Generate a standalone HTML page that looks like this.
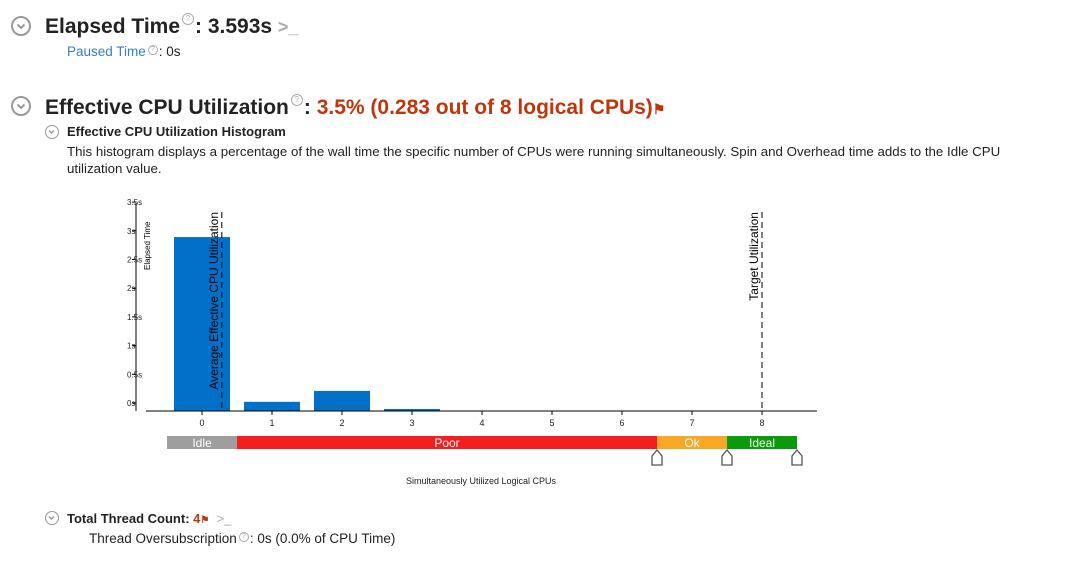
<!DOCTYPE html>
<html><head><meta charset="utf-8"><style>
body{margin:0;width:1077px;height:561px;background:#fff;font-family:"Liberation Sans",sans-serif;color:#222;position:relative;overflow:hidden}
.a{position:absolute;white-space:nowrap}
.h1{font-size:21px;font-weight:bold}
.red{color:#c0360c}
.q{display:inline-block;width:8px;height:8px;border:1px solid #aaa;border-radius:50%;font-size:7px;line-height:8px;text-align:center;color:#aaa;font-weight:normal;vertical-align:super;margin:0 1px 0 2px}
.h1 .q{width:10px;height:10px;line-height:10px;font-size:8px;vertical-align:12px}
.circ{position:absolute;border:2px solid #999;border-radius:50%;box-sizing:border-box}
</style></head><body>
<div class="circ" style="left:11px;top:16px;width:20px;height:20px"><svg width="16" height="16" style="position:absolute;left:0;top:0"><path d="M4.5 6.5 L8 10 L11.5 6.5" stroke="#999" stroke-width="2" fill="none"/></svg></div>
<div class="a h1" style="left:45px;top:13px">Elapsed Time<span class="q">?</span>: 3.593s <span style="color:#aaa;font-size:18px">&gt;_</span></div>
<div class="a" style="left:67px;top:44px;font-size:13.5px"><span style="color:#3a7cc4">Paused Time</span><span class="q">?</span>: 0s</div>

<div class="circ" style="left:11px;top:96px;width:20px;height:20px"><svg width="16" height="16" style="position:absolute;left:0;top:0"><path d="M4.5 6.5 L8 10 L11.5 6.5" stroke="#999" stroke-width="2" fill="none"/></svg></div>
<div class="a h1" style="left:45px;top:94px">Effective CPU Utilization<span class="q">?</span>: <span class="red">3.5% (0.283 out of 8 logical CPUs)</span><span class="red" style="font-size:14px">&#9873;</span></div>
<div class="circ" style="left:45px;top:125px;width:14px;height:14px;border-width:1.5px"><svg width="11" height="11" style="position:absolute;left:0;top:0"><path d="M3 4.5 L5.5 7 L8 4.5" stroke="#999" stroke-width="1.5" fill="none"/></svg></div>
<div class="a" style="left:67px;top:124px;font-size:13px;font-weight:bold">Effective CPU Utilization Histogram</div>
<div class="a" style="left:67px;top:143px;font-size:13.3px;line-height:17px;white-space:normal;width:990px">This histogram displays a percentage of the wall time the specific number of CPUs were running simultaneously. Spin and Overhead time adds to the Idle CPU utilization value.</div>

<svg id="chart" class="a" style="left:0;top:0" width="1077" height="561"></svg>

<div class="circ" style="left:45px;top:511px;width:14px;height:14px;border-width:1.5px"><svg width="11" height="11" style="position:absolute;left:0;top:0"><path d="M3 4.5 L5.5 7 L8 4.5" stroke="#999" stroke-width="1.5" fill="none"/></svg></div>
<div class="a" style="left:67px;top:511px;font-size:13px;font-weight:bold">Total Thread Count: <span class="red">4</span><span class="red" style="font-size:10px">&#9873;</span> <span style="color:#aaa;font-weight:normal">&nbsp;&gt;_</span></div>
<div class="a" style="left:89px;top:531px;font-size:13.5px">Thread Oversubscription<span class="q">?</span>: 0s (0.0% of CPU Time)</div>

<script>
const categories=[0,1,2,3,4,5,6,7,8];
const values=[3.03,0.16,0.35,0.035,0,0,0,0,0];
const yTicks=[0,0.5,1,1.5,2,2.5,3,3.5];
const yTickLabels=["0s","0.5s","1s","1.5s","2s","2.5s","3s","3.5s"];
const avgUtil=0.283;
const targetUtil=8;
const zones=["Idle","Poor","Ok","Ideal"];
const zoneStarts=[-0.5,0.5,6.5,7.5];
const zoneEnds=[0.5,6.5,7.5,8.5];
const zoneColors=["#9e9e9e","#f21f1f","#f9a825","#0a9a0a"];
const NS="http://www.w3.org/2000/svg";
const svg=document.getElementById('chart');
const x=c=>202+c*70;
const y=v=>411-v*57.4;
function el(t,a,txt){const e=document.createElementNS(NS,t);for(const k in a)e.setAttribute(k,a[k]);if(txt!==undefined)e.textContent=txt;svg.appendChild(e);return e;}
let ax=el('line',{x1:136,y1:203,x2:136,y2:411,stroke:'#000'});


yTicks.forEach((t,i)=>{
  const ty=y(t)-8;
  const tk=el('line',{x1:132,y1:ty,x2:136,y2:ty,stroke:'#000'});
  
  
  const lb=el('text',{x:127,y:ty+3,'font-size':8,fill:'#222'},yTickLabels[i]);
  
  
});
const yt=el('text',{x:0,y:0,'font-size':8,fill:'#000',transform:'translate(150,270) rotate(-90)'},'Elapsed Time');


categories.forEach((c,i)=>{
  if(values[i]<=0)return;
  const b=el('rect',{x:x(c)-28,y:y(values[i]),width:56,height:411-y(values[i]),fill:'#0070c8'});
  
  
});
const xa=el('line',{x1:146,y1:411,x2:817,y2:411,stroke:'#000'});


categories.forEach(c=>{
  const tk=el('line',{x1:x(c),y1:411,x2:x(c),y2:415,stroke:'#000'});
  
  
  const lb=el('text',{x:x(c),y:426,'font-size':9,'text-anchor':'middle',fill:'#222'},String(c));
  
  
});
[[avgUtil,'Average Effective CPU Utilization','avg-utilization-line'],[targetUtil,'Target Utilization','target-utilization-line']].forEach(r=>{
  const l=el('line',{x1:x(r[0]),y1:212,x2:x(r[0]),y2:411,stroke:'#000','stroke-dasharray':'6,4'});
  
  
  const t=el('text',{x:0,y:0,'font-size':12,fill:'#000','text-anchor':'end',transform:`translate(${x(r[0])-4},212) rotate(-90)`},r[1]);
  
  
});
zones.forEach((z,i)=>{
  const x0=x(zoneStarts[i]),x1=x(zoneEnds[i]);
  const r=el('rect',{x:x0,y:436,width:x1-x0,height:13,fill:zoneColors[i]});
  
  
  const t=el('text',{x:(x0+x1)/2,y:447,'font-size':12,'text-anchor':'middle',fill:'#fff'},z);
  
  
});
[6.5,7.5,8.5].forEach(m=>{
  const mx=x(m);
  const p=el('path',{d:`M${mx} 450 L${mx+5} 456 L${mx+5} 465 L${mx-5} 465 L${mx-5} 456 Z`,fill:'#fff',stroke:'#555','stroke-width':1.3});
  
  
});
const xt=el('text',{x:481,y:484,'font-size':9,'text-anchor':'middle',fill:'#222'},'Simultaneously Utilized Logical CPUs');


</script>
</body></html>
